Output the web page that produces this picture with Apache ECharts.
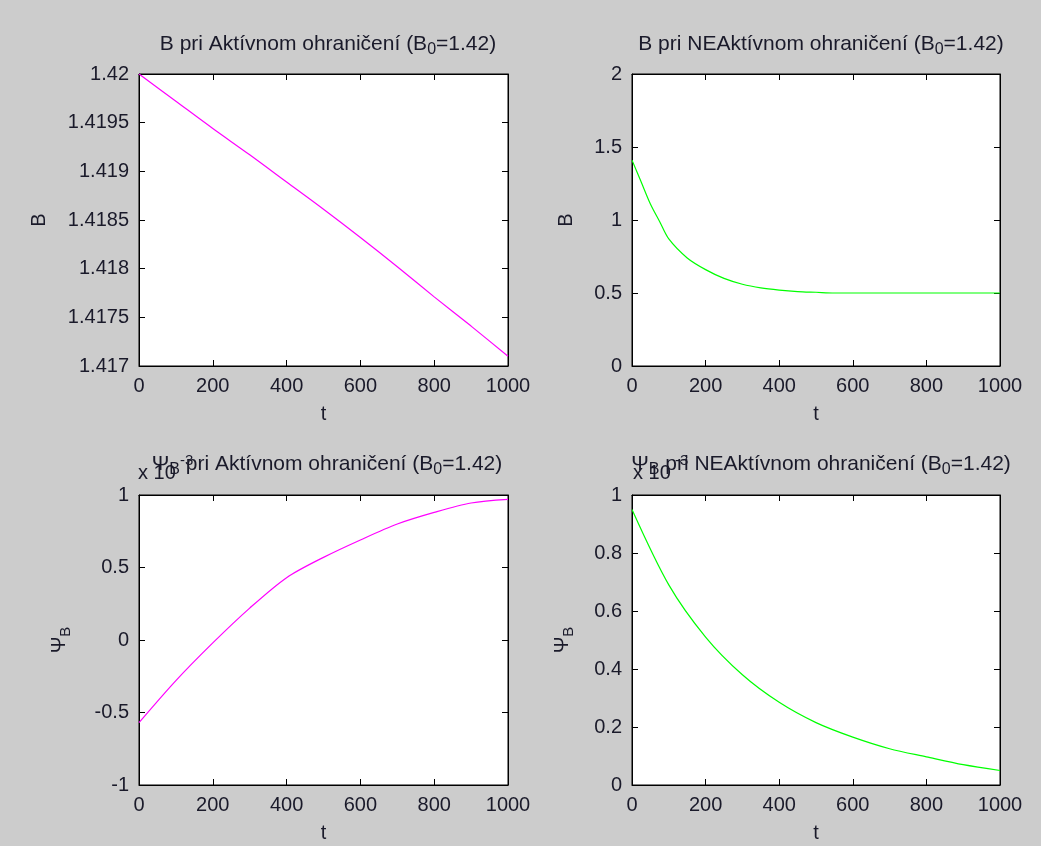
<!DOCTYPE html>
<html>
<head>
<meta charset="utf-8">
<script src="https://cdn.jsdelivr.net/npm/echarts@6/dist/echarts.min.js"></script>
<style>
  html, body { margin: 0; padding: 0; background: #ffffff; }
  #chart { width: 1041px; height: 846px; background: #cccccc; }
</style>
</head>
<body>
<div id="chart"></div>
<script>
// t axis samples
const tA = [0, 100, 200, 300, 400, 500, 600, 700, 800, 900, 1000];
const tB = [0, 25, 50, 75, 100, 150, 200, 250, 300, 350, 400, 450, 500, 550, 600, 700, 800, 900, 1000];

// B, active constraint
const bActive = [1.42, 1.41972, 1.41944, 1.41917, 1.41889, 1.41861, 1.41832, 1.41802, 1.41771, 1.41741, 1.4171];
// B, non-active constraint
const bInactive = [1.41, 1.26, 1.11, 0.99, 0.87, 0.74, 0.66, 0.6, 0.56, 0.535, 0.52, 0.51, 0.505, 0.5, 0.5, 0.5, 0.5, 0.5, 0.5];
// psi_B (x 10^-3), active constraint
const psiActive = [-0.57, -0.28, -0.02, 0.22, 0.43, 0.57, 0.69, 0.8, 0.88, 0.945, 0.97];
// psi_B (x 10^-3), non-active constraint
const psiInactive = [0.95, 0.69, 0.51, 0.38, 0.285, 0.215, 0.165, 0.125, 0.097, 0.07, 0.05];

const titles = [
  '{t|B pri Aktívnom ohraničení (B}{ts|0}{t|=1.42)}',
  '{t|B pri NEAktívnom ohraničení (B}{ts|0}{t|=1.42)}',
  '{t|\u03a8}{ts|B}{t| pri Aktívnom ohraničení (B}{ts|0}{t|=1.42)}',
  '{t|\u03a8}{ts|B}{t| pri NEAktívnom ohraničení (B}{ts|0}{t|=1.42)}'
];

const font = 'Liberation Sans, Arial, sans-serif';
const ink = '#1a1a2a';
const rich = {
  n: { fontSize: 20, color: ink, fontFamily: font, fontWeight: 'normal' },
  s: { fontSize: 15, color: ink, fontFamily: font, fontWeight: 'normal', padding: [12, 0, 0, 0] },
  t: { fontSize: 21, color: ink, fontFamily: font, fontWeight: 'normal' },
  ts: { fontSize: 16, color: ink, fontFamily: font, fontWeight: 'normal', padding: [12, 0, 0, 0] }
};

const grids = [
  { left: 139, top: 74, width: 369, height: 292 },
  { left: 632, top: 74, width: 368, height: 292 },
  { left: 139, top: 495, width: 369, height: 290 },
  { left: 632, top: 495, width: 368, height: 290 }
];

const yRanges = [
  { min: 1.417, max: 1.42, interval: 0.0005, dec: 4, name: '{n|B}', gap: 90 },
  { min: 0, max: 2, interval: 0.5, dec: 1, name: '{n|B}', gap: 56 },
  { min: -1, max: 1, interval: 0.5, dec: 1, name: '{n|\u03a8}{s|B}', gap: 66 },
  { min: 0, max: 1, interval: 0.2, dec: 1, name: '{n|\u03a8}{s|B}', gap: 56 }
];

const titleCenters = [[323, 25], [816, 25], [322, 445], [816, 445]];

const tickStyle = { show: true, inside: true, length: 6, lineStyle: { color: '#000' } };
const lineStyle = { show: true, onZero: false, lineStyle: { color: '#000' } };

const xAxes = [];
const yAxes = [];
grids.forEach((g, i) => {
  xAxes.push({
    gridIndex: i, type: 'value', min: 0, max: 1000, interval: 200,
    name: 't', nameLocation: 'middle', nameGap: 38,
    nameTextStyle: { fontSize: 20, color: ink, fontFamily: font },
    axisLine: lineStyle,
    axisTick: tickStyle,
    axisLabel: { fontSize: 20, color: ink, fontFamily: font, margin: 10, formatter: v => String(v) },
    splitLine: { show: false }
  });
  xAxes.push({
    gridIndex: i, type: 'value', position: 'top', min: 0, max: 1000, interval: 200,
    axisLine: lineStyle,
    axisTick: tickStyle, axisLabel: { show: false }, splitLine: { show: false }
  });
  const r = yRanges[i];
  yAxes.push({
    gridIndex: i, type: 'value', min: r.min, max: r.max, interval: r.interval,
    name: r.name, nameLocation: 'middle', nameGap: r.gap, nameRotate: 90,
    nameTextStyle: { rich: rich },
    axisLine: lineStyle,
    axisTick: tickStyle,
    axisLabel: {
      fontSize: 20, color: ink, fontFamily: font, margin: 10,
      formatter: v => String(+v.toFixed(r.dec))
    },
    splitLine: { show: false }
  });
  yAxes.push({
    gridIndex: i, type: 'value', position: 'right', min: r.min, max: r.max, interval: r.interval,
    axisLine: lineStyle,
    axisTick: tickStyle, axisLabel: { show: false }, splitLine: { show: false }
  });
});

const pair = (xs, ys) => xs.map((x, k) => [x, ys[k]]);
const seriesData = [
  { data: pair(tA, bActive), color: '#ff00ff' },
  { data: pair(tB, bInactive), color: '#00ff00' },
  { data: pair(tA, psiActive), color: '#ff00ff' },
  { data: pair(tA, psiInactive), color: '#00ff00' }
];

const chart = echarts.init(document.getElementById('chart'));
chart.setOption({
  animation: false,
  backgroundColor: '#cccccc',
  grid: grids.map(g => Object.assign({ show: true, backgroundColor: '#fff', borderColor: '#000', borderWidth: 1 }, g)),
  title: titles.map((t, i) => ({
    text: t,
    left: titleCenters[i][0], top: titleCenters[i][1],
    textAlign: 'center',
    textStyle: { rich: rich, fontWeight: 'normal' }
  })),
  xAxis: xAxes,
  yAxis: yAxes,
  series: seriesData.map((s, i) => ({
    type: 'line',
    xAxisIndex: i * 2,
    yAxisIndex: i * 2,
    data: s.data,
    smooth: 0.3,
    showSymbol: false,
    lineStyle: { color: s.color, width: 1.2 }
  })),
  graphic: [
    { type: 'text', left: 138, top: 463, style: { text: 'x 10', fontSize: 20, fill: ink, fontFamily: font } },
    { type: 'text', left: 180, top: 453, style: { text: '-3', fontSize: 15, fill: ink, fontFamily: font } },
    { type: 'text', left: 633, top: 463, style: { text: 'x 10', fontSize: 20, fill: ink, fontFamily: font } },
    { type: 'text', left: 675, top: 453, style: { text: '-3', fontSize: 15, fill: ink, fontFamily: font } }
  ]
});
</script>
</body>
</html>
